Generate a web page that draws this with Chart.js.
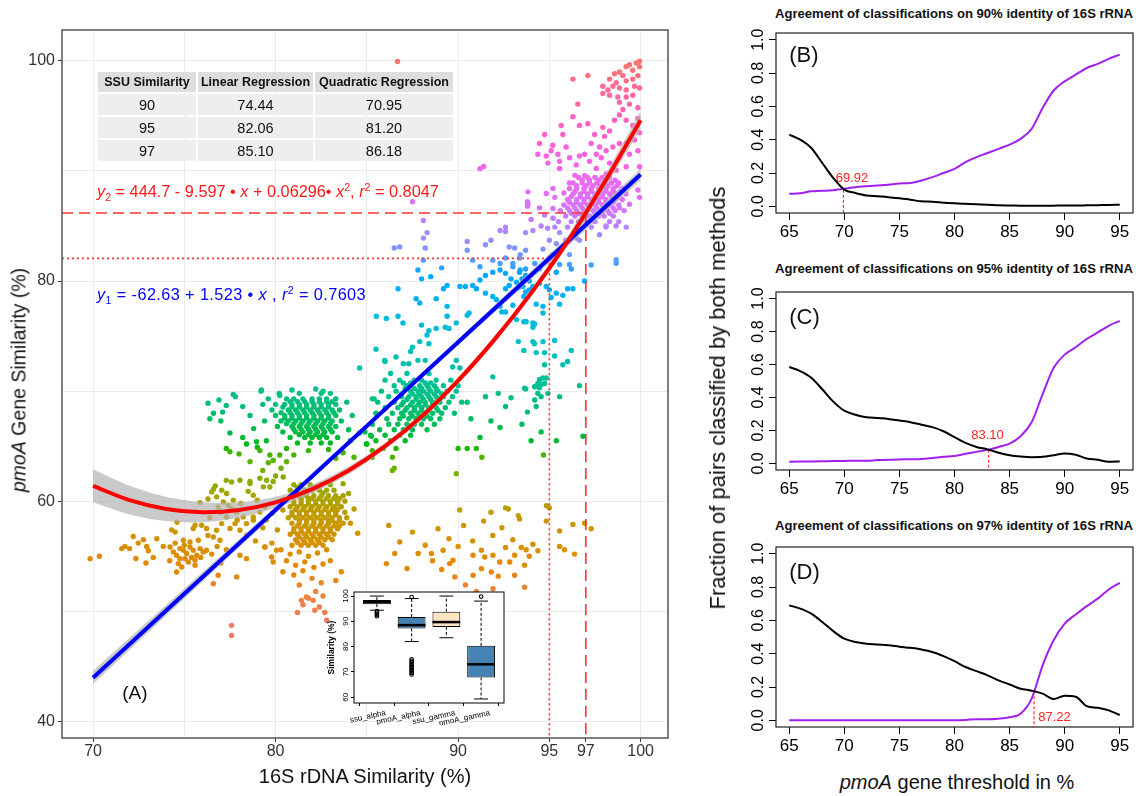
<!DOCTYPE html>
<html>
<head>
<meta charset="utf-8">
<script src="https://cdn.jsdelivr.net/npm/chart.js@4.4.1/dist/chart.umd.min.js"></script>
<style>
  body { margin: 0; background: #fff; width: 1136px; height: 796px; overflow: hidden; position: relative;
         font-family: 'Liberation Sans', Arial, sans-serif; }
  canvas { position: absolute; }
  .lbl { position: absolute; white-space: nowrap; transform: translate(-50%, -50%); }
  .rot { transform: translate(-50%, -50%) rotate(-90deg); }
  .ttl { position: absolute; white-space: nowrap; transform: translate(-50%, -50%); font-weight: bold; font-size: 13.1px; color: #111; }
  .eq { position: absolute; white-space: nowrap; transform: translateY(-50%); font-size: 16.3px; }
  .eq sub { font-size: 0.65em; vertical-align: -0.35em; }
  .eq sup { font-size: 0.65em; vertical-align: 0.55em; }
  #tbl { position: absolute; left: 96px; top: 70px; border-collapse: separate; border-spacing: 2px; table-layout: fixed; }
  #tbl th { background: #dedede; font-weight: bold; font-size: 12.5px; height: 20px; padding: 0; color: #111; }
  #tbl td { background: #eeeeee; font-size: 14.5px; height: 21px; padding: 0; text-align: center; color: #111; }
</style>
</head>
<body>
<canvas id="main" width="690" height="796" style="left:0;top:0"></canvas>
<canvas id="inset" width="195" height="140" style="left:318px;top:585px"></canvas>
<canvas id="pB" width="406" height="225" style="left:730px;top:25px"></canvas>
<canvas id="pC" width="406" height="223" style="left:730px;top:284px"></canvas>
<canvas id="pD" width="406" height="225" style="left:730px;top:539px"></canvas>

<table id="tbl">
  <colgroup><col style="width:98px"><col style="width:115px"><col style="width:138px"></colgroup>
  <tr><th>SSU Similarity</th><th>Linear Regression</th><th>Quadratic Regression</th></tr>
  <tr><td>90</td><td>74.44</td><td>70.95</td></tr>
  <tr><td>95</td><td>82.06</td><td>81.20</td></tr>
  <tr><td>97</td><td>85.10</td><td>86.18</td></tr>
</table>

<div class="eq" style="left:97px;top:192px;color:#ff1a1a"><i>y</i><sub>2</sub> = 444.7 - 9.597 • <i>x</i> + 0.06296• <i>x</i><sup>2</sup>, <i>r</i><sup>2</sup> = 0.8047</div>
<div class="eq" style="left:97px;top:295px;color:#0000ff;letter-spacing:0.4px"><i>y</i><sub>1</sub> = -62.63 + 1.523 • <i>x</i> , <i>r</i><sup>2</sup> = 0.7603</div>

<div class="lbl rot" style="left:19px;top:380px;font-size:19.5px;color:#111"><i>pmoA</i> Gene Similarity (%)</div>
<div class="lbl" style="left:365px;top:776px;font-size:20px;color:#111">16S rDNA Similarity (%)</div>

<div class="ttl" style="left:954px;top:13px">Agreement of classifications on 90% identity of 16S rRNA</div>
<div class="ttl" style="left:954px;top:268px">Agreement of classifications on 95% identity of 16S rRNA</div>
<div class="ttl" style="left:954px;top:525px">Agreement of classifications on 97% identity of 16S rRNA</div>
<div class="lbl rot" style="left:718px;top:398px;font-size:22px;color:#111">Fraction of pairs classified by both methods</div>
<div class="lbl" style="left:957px;top:782px;font-size:20px;color:#111"><i>pmoA</i> gene threshold in %</div>

<script>
const FONT = "'Liberation Sans', Arial, sans-serif";

// ---- main scatter: points, grouped by region ----
const ptsOrangeLeft = [
  [69.84,54.79],[70.35,55.0],[71.57,55.7],[71.75,55.9],[72.0,55.7],[72.2,56.8],[72.48,56.2],[72.76,56.5],[72.94,55.9],
  [73.03,55.5],[72.35,54.8],[73.49,56.6],[73.85,55.9],[74.22,55.85],[74.31,57.4],[74.5,57.2],[74.6,58.1],
  [74.40,55.40],[74.58,55.10],[74.76,54.79],[74.95,55.55],[75.13,55.25],[74.76,55.70],[75.04,54.79],[75.31,55.85],
  [75.49,55.55],[75.68,55.10],[75.86,55.70],[76.04,55.40],[75.59,54.64],[75.22,54.49],[74.67,54.34],[74.86,54.03],
  [75.59,54.19],[76.22,55.55],[74.58,53.58],[74.95,56.46],[75.31,56.31],[75.77,56.46],[75.49,57.52],[76.3,56.9],
  [74.2,54.6],[74.5,56.2],[75.0,56.0],[75.4,54.9],[75.9,54.9],[76.5,55.2],[76.8,55.9],[73.3,54.9],[72.9,54.4],
  [78.05,55.10],[78.41,54.79],[77.87,53.13],[76.59,52.52],[76.86,53.28],[77.59,48.73],[77.59,47.82],[79.42,55.85],
  [79.87,54.49],[79.41,55.85],[79.78,54.94],[80.05,55.55],[77.3,55.6],[77.0,54.4]
];
const ptsOliveLeft = [
  [76.50,60.85],[76.77,60.40],[77.05,61.00],[77.32,60.70],[77.14,59.94],[76.86,59.49],[77.41,59.64],[77.68,60.10],
  [77.87,59.03],[78.23,58.58],[78.41,57.97],[78.78,58.28],[77.32,58.58],[77.05,57.97],[76.77,57.37],[76.59,56.76],
  [76.95,56.46],[77.50,57.52],[77.78,57.97],[78.05,57.37],[78.41,56.91],[78.78,58.58],[79.14,59.03],[79.42,59.49],
  [77.59,61.76],[78.05,61.91],[78.60,61.61],[78.78,60.55],[79.33,61.31],[79.51,61.91],[76.22,57.52],[75.95,57.82],
  [75.59,57.82],[75.86,59.88],[76.3,60.2],[76.7,61.4],[77.0,59.0],[77.6,59.3],[78.1,59.8],[78.5,60.9],[76.4,58.5],
  [77.9,58.3],[79.0,60.1],[79.3,57.6],[79.8,58.9],[78.9,56.4]
];
const ptsGreenUpper = [
  [80.2,69.8],[81.3,69.8],[82.5,69.8],[83.0,69.8],
  [79.6,69.3],[80.6,69.3],[81.0,69.3],[81.5,69.3],[82.0,69.3],[82.4,69.3],[82.8,69.3],[83.3,69.3],
  [79.3,68.8],[80.0,68.8],[80.5,68.8],[80.9,68.8],[81.3,68.8],[81.7,68.8],[82.1,68.8],[82.5,68.8],[82.9,68.8],[83.3,68.8],
  [79.8,68.3],[80.7,68.3],[81.1,68.3],[81.5,68.3],[81.9,68.3],[82.3,68.3],[82.7,68.3],[83.1,68.3],[83.5,68.3],
  [80.0,67.8],[80.5,67.8],[80.9,67.8],[81.3,67.8],[81.7,67.8],[82.1,67.8],[82.5,67.8],[82.9,67.8],[83.3,67.8],
  [79.4,67.3],[80.3,67.3],[80.7,67.3],[81.1,67.3],[81.5,67.3],[81.9,67.3],[82.3,67.3],[82.7,67.3],[83.1,67.3],[83.6,67.3],
  [80.1,66.8],[80.9,66.8],[81.3,66.8],[81.7,66.8],[82.1,66.8],[82.5,66.8],[82.9,66.8],[83.3,66.8],
  [80.4,66.3],[81.1,66.3],[81.5,66.3],[81.9,66.3],[82.3,66.3],[82.7,66.3],[83.1,66.3],
  [80.8,65.8],[81.6,65.8],[82.0,65.8],[82.4,65.8],[82.8,65.8],[83.4,65.8],
  [81.2,65.3],[81.9,65.3],[82.5,65.3],[83.0,65.3],
  [80.8,69.05],[81.2,69.05],[81.6,69.05],[82.0,69.05],[82.4,69.05],[82.8,69.05],[83.1,69.05],
  [80.4,68.55],[80.9,68.55],[81.3,68.55],[81.7,68.55],[82.1,68.55],[82.5,68.55],[82.9,68.55],
  [80.3,68.05],[80.8,68.05],[81.2,68.05],[81.6,68.05],[82.0,68.05],[82.4,68.05],[82.8,68.05],[83.2,68.05],
  [80.5,67.55],[80.9,67.55],[81.3,67.55],[81.7,67.55],[82.1,67.55],[82.5,67.55],[82.9,67.55],
  [80.6,67.05],[81.0,67.05],[81.4,67.05],[81.8,67.05],[82.2,67.05],[82.6,67.05],[83.0,67.05],
  [81.0,66.55],[81.4,66.55],[81.8,66.55],[82.2,66.55],[82.6,66.55],[83.0,66.55],
  [81.3,66.05],[81.8,66.05],[82.2,66.05],[82.6,66.05],
  [76.6,68.0],[77.0,67.3],[77.3,68.7],[77.8,69.5],[78.2,68.6],[78.6,67.8],[77.5,66.2],[78.2,65.8],[78.8,66.6],
  [79.0,64.9],[78.0,64.3],[77.3,64.8],[79.5,65.5],[76.9,69.2],[76.4,67.5],[79.2,70.0],[80.9,70.1],[82.2,70.2],
  [84.0,66.5],[84.2,67.8],[83.9,69.0],[84.1,65.5],[79.6,63.5],[80.3,63.0],[80.0,62.3],[79.3,62.8],[78.6,63.6],
  [81.0,64.2],[80.6,64.8],[83.7,64.4],[84.3,64.0],[77.68,69.7],[79.23,70.1],[80.23,69.6],[82.6,70.0],[76.3,68.9],
  [77.1,68.1],[78.41,65.2],[78.96,65.4],[77.5,64.5],[79.14,64.6],[79.69,64.2],[80.23,64.2],[79.87,63.7],[80.6,63.6],
  [80.42,62.2],[79.87,61.8],[79.69,61.3],[79.14,62.1],[78.6,61.8],[77.3,61.9],[76.6,61.1],[84.9,66.3],[85.25,65.9],
  [84.98,65.2],[85.4,69.3],[81.8,64.6],[82.9,64.7],[83.3,63.9]
];
const ptsCentral = [
  [81.0,61.5],[81.4,61.5],[81.9,61.5],[82.5,61.5],[83.0,61.5],
  [80.8,61.0],[81.2,61.0],[81.6,61.0],[82.0,61.0],[82.4,61.0],[82.8,61.0],[83.2,61.0],
  [80.9,60.5],[81.3,60.5],[81.7,60.5],[82.1,60.5],[82.5,60.5],[82.9,60.5],[83.3,60.5],[83.7,60.5],
  [81.0,60.0],[81.4,60.0],[81.8,60.0],[82.2,60.0],[82.6,60.0],[83.0,60.0],[83.4,60.0],[83.8,60.0],
  [80.8,59.5],[81.2,59.5],[81.6,59.5],[82.0,59.5],[82.4,59.5],[82.8,59.5],[83.2,59.5],[83.6,59.5],
  [80.9,59.0],[81.3,59.0],[81.7,59.0],[82.1,59.0],[82.5,59.0],[82.9,59.0],[83.3,59.0],[83.8,59.0],
  [80.7,58.5],[81.1,58.5],[81.5,58.5],[81.9,58.5],[82.3,58.5],[82.7,58.5],[83.1,58.5],[83.5,58.5],[83.9,58.5],
  [80.9,58.0],[81.3,58.0],[81.7,58.0],[82.1,58.0],[82.5,58.0],[82.9,58.0],[83.3,58.0],[83.7,58.0],
  [81.0,57.5],[81.4,57.5],[81.8,57.5],[82.2,57.5],[82.6,57.5],[83.0,57.5],[83.4,57.5],
  [80.8,57.0],[81.2,57.0],[81.6,57.0],[82.0,57.0],[82.4,57.0],[82.8,57.0],[83.2,57.0],
  [81.1,56.5],[81.5,56.5],[81.9,56.5],[82.3,56.5],[82.7,56.5],[83.1,56.5],
  [80.9,56.0],[81.4,56.0],[81.8,56.0],[82.2,56.0],[82.6,56.0],
  [81.2,61.25],[82.2,61.25],[82.6,60.75],[81.5,60.75],[83.5,60.25],[82.0,60.25],[81.0,59.75],[82.6,59.75],[83.4,59.25],
  [81.9,59.25],[81.3,58.75],[82.9,58.75],[82.1,58.25],[83.5,58.25],[81.2,57.75],[82.8,57.75],[81.8,57.25],[83.2,57.75],[82.1,56.75],
  [81.4,60.25],[81.8,60.25],[82.4,60.25],[82.8,60.25],[83.2,60.25],
  [81.4,59.75],[81.8,59.75],[82.2,59.75],[83.0,59.75],[83.4,59.75],
  [81.1,59.25],[81.5,59.25],[82.3,59.25],[82.7,59.25],[83.1,59.25],
  [80.9,58.75],[81.7,58.75],[82.1,58.75],[82.5,58.75],[83.3,58.75],
  [81.3,58.25],[81.7,58.25],[82.5,58.25],[82.9,58.25],[83.1,58.25],
  [81.6,57.75],[82.0,57.75],[82.4,57.75],[83.5,57.75],
  [81.0,57.25],[81.4,57.25],[82.2,57.25],[82.6,57.25],[83.0,57.25],
  [81.3,56.75],[81.7,56.75],[82.5,56.75],[82.9,56.75],
  [81.2,56.25],[81.6,56.25],[82.0,56.25],[82.4,56.25],
  [80.3,55.6],[80.8,55.2],[81.3,55.4],[81.8,55.0],[82.3,55.3],[82.8,55.6],[80.6,54.6],[81.1,54.2],[81.6,54.5],[82.1,54.0],
  [82.6,54.3],[80.4,53.6],[81.0,53.3],[81.5,53.7],[82.0,53.0],[82.5,52.6],[81.3,52.4],[82.2,51.8],[81.8,51.2],[82.6,51.4],
  [81.5,50.6],[82.4,50.4],[81.2,49.9],[82.8,49.2],[83.3,52.8],[83.6,53.6],[83.0,54.6],[79.8,56.2],[80.1,57.4],[79.5,58.3],
  [84.1,58.0],[84.3,59.3],[84.0,60.7],[84.5,57.1],[81.69,51.3],[82.06,51.0],[81.42,51.0],[82.15,50.1],[82.7,49.9],
  [83.7,61.6],[80.5,60.1],[80.4,59.2]
];
const ptsTeal = [
  [86.3,71.6],[87.2,71.6],[88.4,71.6],
  [86.0,71.0],[86.8,71.0],[87.6,71.0],[88.0,71.0],[88.8,71.0],[89.6,71.0],
  [86.5,70.5],[87.2,70.5],[87.9,70.5],[88.3,70.5],[88.7,70.5],[89.2,70.5],[90.0,70.5],
  [85.8,70.0],[86.6,70.0],[87.4,70.0],[87.8,70.0],[88.1,70.0],[88.5,70.0],[88.9,70.0],[89.4,70.0],[89.9,70.0],
  [86.2,69.5],[86.9,69.5],[87.3,69.5],[87.7,69.5],[88.0,69.5],[88.4,69.5],[88.8,69.5],[89.2,69.5],[89.7,69.5],
  [85.6,69.0],[86.5,69.0],[87.0,69.0],[87.5,69.0],[87.9,69.0],[88.2,69.0],[88.6,69.0],[89.0,69.0],[89.5,69.0],[90.2,69.0],
  [86.0,68.5],[86.7,68.5],[87.2,68.5],[87.6,68.5],[88.0,68.5],[88.4,68.5],[88.8,68.5],[89.3,68.5],
  [85.5,68.0],[86.4,68.0],[86.9,68.0],[87.4,68.0],[87.8,68.0],[88.2,68.0],[88.6,68.0],[89.1,68.0],[89.8,68.0],
  [86.1,67.5],[86.8,67.5],[87.3,67.5],[87.7,67.5],[88.1,67.5],[88.5,67.5],[89.0,67.5],
  [85.3,67.0],[86.2,67.0],[86.7,67.0],[87.2,67.0],[87.6,67.0],[88.0,67.0],[88.7,67.0],
  [85.7,66.5],[86.5,66.5],[87.0,66.5],[87.5,66.5],[88.3,66.5],
  [85.2,66.0],[86.0,66.0],[86.8,66.0],[87.4,66.0],
  [85.5,65.5],[86.3,65.5],[87.1,65.5],
  [85.9,64.8],[86.6,64.8],[90.0,64.8],[90.5,64.8],[91.0,64.8],
  [85.3,64.0],[86.4,64.0],[91.3,64.0],
  [87.0,70.75],[87.4,70.75],[88.2,70.75],[88.5,70.75],
  [87.1,70.25],[87.6,70.25],[88.0,70.25],[88.4,70.25],[88.8,70.25],
  [86.9,69.75],[87.5,69.75],[87.9,69.75],[88.3,69.75],[88.7,69.75],[89.1,69.75],
  [87.2,69.25],[87.7,69.25],[88.1,69.25],[88.5,69.25],[88.9,69.25],
  [86.9,68.75],[87.4,68.75],[87.8,68.75],[88.2,68.75],[88.6,68.75],
  [87.1,68.25],[87.6,68.25],[88.0,68.25],[88.4,68.25],[88.9,68.25],
  [87.0,67.75],[87.5,67.75],[87.9,67.75],[88.3,67.75],
  [86.5,63.0],[86.4,62.8],[89.9,62.5],[88.2,72.8],[87.3,72.5],[86.6,73.1],[85.5,73.8],[89.7,72.2],[90.5,69.0],[90.7,67.5],
  [91.8,67.3],[92.3,66.7],[93.5,67.0],[91.2,65.8],[94.0,65.5],[92.6,68.6],[92.9,69.4],[93.8,68.1],[91.9,71.3],[92.2,69.8],
  [91.5,69.5],[93.7,70.2],[94.2,69.2],[85.3,69.3],[84.6,66.2],[85.0,65.2],[85.3,64.6],
  [93.64,70.26],[94.19,70.4],[94.37,70.7],[94.46,71.07],[94.65,71.2],[94.83,71.2],[94.55,70.6],[94.74,70.7],[94.46,70.3],
  [94.37,69.8],[94.55,69.5],[94.28,68.6],[94.92,69.8],[95.56,69.5],[96.65,70.5],
  [94.55,66.3],[95.38,65.5],[94.68,64.2],[96.84,65.9]
];
const ptsBlue = [
  [86.71,79.3],[85.52,76.8],[86.07,76.6],[86.71,76.8],[86.98,76.2],[84.61,72.1],[85.98,72.8],
  [87.7,78.4],[87.9,78.0],[89.2,79.3],[89.4,79.6],[88.8,78.4],[89.4,77.7],[89.4,76.8],[88.0,76.0],[88.4,75.5],[88.8,75.7],
  [89.3,75.8],[89.5,75.7],[89.9,76.2],[88.3,75.1],[88.4,74.3],[87.9,74.5],[87.5,74.0],[87.4,73.6],[87.8,72.8],[87.0,72.5],
  [86.0,72.7],[89.9,72.8],[90.1,72.1],[90.5,76.9],[90.6,77.1],[91.0,79.3],[91.5,78.9],[91.9,78.6],[92.1,78.3],[92.3,77.7],
  [92.6,77.2],[93.0,77.8],[93.2,76.5],[93.6,76.3],[94.1,76.2],[93.3,74.5],[93.6,73.7],[94.1,74.5],[92.4,77.2],[92.6,79.3],
  [90.1,79.5],[90.4,79.5],[90.8,79.6],[91.2,80.1],[91.5,80.5],[91.9,80.8],[92.3,81.0],[92.6,80.7],[93.0,81.3],[93.4,81.0],
  [93.7,80.5],[93.7,79.0],[93.6,78.6],[94.0,79.2],
  [93.37,80.8],[93.7,81.1],[94.2,81.6],[94.46,81.1],[95.0,82.1],[95.2,82.4],[95.38,80.8],[95.56,81.5],[96.1,81.5],[96.2,81.1],
  [95.74,83.1],[93.37,82.1],[94.65,82.9],[95.38,83.4],[96.1,82.4],[96.65,83.7],[93.55,79.5],[93.9,79.2],[94.1,79.5],[94.46,79.8],
  [94.83,79.5],[95.0,79.2],[94.28,77.9],[94.65,77.7],[94.65,77.1],[95.1,78.5],[95.38,78.9],[95.56,77.9],[95.74,78.7],[96.0,79.3],
  [96.29,79.3],[96.93,80.0],[93.73,76.3],[94.19,76.1],[94.1,75.8],[94.19,74.3],[94.65,74.5],[94.28,73.5],[94.74,73.5],[95.29,74.6],
  [95.29,73.2],[95.74,72.4],[96.0,72.7],[96.2,73.7],[94.74,72.4],
  [93.2,79.9],[93.5,80.2],[93.9,80.0],[93.3,79.4],[92.8,79.6],[92.9,80.2]
];
const ptsViolet = [
  [86.5,83.0],[86.8,83.1],[88.1,83.9],[88.3,84.4],[88.2,83.0],[88.1,81.9],[87.8,81.0],[88.0,80.2],[88.5,80.4],[89.1,81.2],
  [90.5,82.8],[90.5,83.6],[91.5,83.3],[91.8,83.7],[92.3,84.6],[92.6,84.9],[92.6,84.5],[92.8,83.1],[93.1,83.0],[93.4,82.4],
  [93.7,82.8],[94.1,84.6],[93.8,87.2],[93.8,86.8],[87.5,87.2],[88.1,85.5],[91.4,90.4],[91.2,90.2],[90.8,81.9],[91.2,81.3],
  [91.9,81.9],[92.3,81.6],[92.6,82.1],[93.0,81.6],
  [96.6,89.4],[97.1,89.4],[97.5,89.4],[97.9,89.4],[98.3,89.4],
  [96.3,88.9],[96.8,88.9],[97.2,88.9],[97.6,88.9],[98.0,88.9],[98.4,88.9],[98.8,88.9],
  [96.1,88.4],[96.5,88.4],[96.9,88.4],[97.3,88.4],[97.7,88.4],[98.1,88.4],[98.5,88.4],[99.0,88.4],
  [96.3,87.9],[96.7,87.9],[97.1,87.9],[97.5,87.9],[97.9,87.9],[98.3,87.9],[98.7,87.9],[99.2,87.9],
  [96.0,87.4],[96.5,87.4],[96.9,87.4],[97.3,87.4],[97.7,87.4],[98.1,87.4],[98.6,87.4],[99.0,87.4],
  [95.8,86.9],[96.3,86.9],[96.7,86.9],[97.1,86.9],[97.5,86.9],[97.9,86.9],[98.3,86.9],[98.8,86.9],
  [95.6,86.4],[96.1,86.4],[96.5,86.4],[96.9,86.4],[97.4,86.4],[97.8,86.4],[98.2,86.4],[98.6,86.4],[99.1,86.4],
  [95.9,85.9],[96.4,85.9],[96.8,85.9],[97.2,85.9],[97.7,85.9],[98.0,85.9],[98.5,85.9],
  [95.5,85.4],[96.2,85.4],[96.6,85.4],[97.0,85.4],[97.5,85.4],[98.3,85.4],[98.8,85.4],
  [95.3,84.9],[96.0,84.9],[96.5,84.9],[97.3,84.9],[98.1,84.9],
  [96.8,89.15],[97.2,89.15],[97.7,89.15],[98.1,89.15],[98.6,89.15],
  [96.5,88.65],[97.0,88.65],[97.4,88.65],[97.8,88.65],[98.2,88.65],[98.7,88.65],
  [96.4,88.15],[96.9,88.15],[97.3,88.15],[97.7,88.15],[98.1,88.15],[98.5,88.15],[98.9,88.15],
  [96.2,87.65],[96.7,87.65],[97.1,87.65],[97.5,87.65],[97.9,87.65],[98.4,87.65],[98.8,87.65],
  [96.1,87.15],[96.5,87.15],[96.9,87.15],[97.3,87.15],[97.7,87.15],[98.1,87.15],[98.5,87.15],
  [96.0,86.65],[96.4,86.65],[96.8,86.65],[97.2,86.65],[97.6,86.65],[98.0,86.65],[98.5,86.65],
  [96.2,86.15],[96.6,86.15],[97.0,86.15],[97.5,86.15],[97.9,86.15],[98.3,86.15],
  [93.83,88.1],[94.83,87.95],[95.2,88.4],[95.3,87.6],[96.1,88.9],[95.8,88.0],[96.4,89.6],[94.46,86.65],[94.74,86.0],[93.7,84.4],
  [93.83,86.97],[94.55,85.0],[95.2,85.7],[95.0,83.7],[95.56,84.4],[95.9,83.7],[96.47,83.9],[96.65,84.7],[97.75,84.2],[98.11,85.0],
  [98.66,85.0],[99.21,84.9],[98.84,86.65],[99.39,86.97],[99.85,88.27],[99.94,87.6],[98.66,81.94],[98.66,81.62],[97.29,81.46],
  [94.9,84.8],[95.2,86.6],[94.0,85.6]
];
const ptsPink = [
  [99.39,99.64],[99.76,99.80],[99.94,99.96],[99.94,99.47],[99.57,99.15],[99.21,99.47],[98.84,98.99],[99.03,98.66],[98.57,98.83],
  [98.30,98.34],[98.66,98.01],[99.21,98.18],[99.57,98.34],[99.85,98.66],[97.93,97.69],[98.21,97.36],[98.48,97.69],[98.84,97.53],
  [99.21,97.36],[99.67,97.69],[99.94,97.53],[97.93,97.04],[98.30,96.88],[98.75,96.72],[99.21,96.72],[99.57,96.88],[98.84,96.23],
  [99.39,96.07],[99.85,95.74],[99.03,95.58],[97.11,98.66],[96.29,98.34],[96.56,96.07],[86.68,99.94],
  [95.65,94.12],[95.74,93.31],[95.19,92.33],[94.74,93.31],[94.46,92.49],[94.37,91.52],[94.83,91.36],[95.10,91.84],[95.47,91.52],
  [95.56,90.87],[96.29,94.93],[96.65,94.12],[97.11,94.28],[97.48,93.31],[97.29,92.49],[97.75,92.17],[98.02,93.14],[98.30,93.63],
  [97.93,93.96],[98.57,94.61],[98.84,95.09],[99.21,94.61],[99.57,94.12],[99.85,94.77],[99.94,93.47],[99.67,92.82],[99.21,92.49],
  [98.84,92.49],[98.48,92.17],[98.11,91.84],[97.84,91.20],[97.57,91.52],[97.20,90.87],[96.93,91.52],[96.65,91.36],[96.47,90.55],
  [97.57,90.22],[98.30,90.71],[98.84,91.20],[99.39,91.52],[99.85,91.84],[99.94,90.38],[99.21,90.38],[98.66,90.06],[98.11,89.73],
  [96.11,91.20],[95.92,92.17],[96.93,89.57],[95.56,90.22],[94.92,90.71]
];
const ptsLowBand = [
  [86.53,55.25],[87.81,55.25],[88.54,55.25],[89.18,55.55],[89.72,54.64],[89.54,54.34],[89.82,53.13],[90.82,55.1],[91.28,55.55],
  [91.46,54.94],[91.91,55.1],[92.28,54.49],[92.83,54.49],[93.1,55.1],[93.1,53.28],[91.82,53.58],[91.28,53.88],[90.82,53.28],
  [91.91,52.06],[86.07,54.34],[90.09,59.2],[91.8,59.0],[92.6,59.4],[92.75,59.3],[93.3,58.7],[94.84,59.6],
  [86.8,56.3],[87.5,57.2],[88.2,56.0],[88.9,57.5],[89.5,56.6],[90.3,57.8],[90.8,56.4],[91.4,58.2],[91.9,56.9],[92.4,57.6],
  [93.0,56.5],[92.6,55.8],[90.0,55.9],[88.6,54.6],[87.2,53.9],[89.1,53.8],[86.2,57.8],[92.2,53.2],[90.4,52.4],[91.0,51.8],
  [95.0,59.4],[94.83,58.2],[93.37,58.4],[96.29,57.9],[96.93,58.0],[97.29,57.5],[95.56,57.3],[95.56,55.9],[95.83,55.6],
  [96.38,55.2],[94.1,56.1],[94.37,55.5],[93.73,55.6],[93.46,55.8],[93.9,55.0],[93.64,54.2],[93.64,52.2]
];

// fitted curves
const fitX     = [70,72,74,76,78,80,82,84,86,88,90,92,94,96,98,100];
const quadFit  = [61.4,60.1,59.3,59.0,59.2,59.9,61.1,62.8,65.0,67.7,70.95,74.7,78.9,83.6,88.9,94.6];
const quadHi   = [62.9,61.4,60.4,59.9,59.9,60.4,61.5,63.15,65.3,68.0,71.25,75.0,79.25,84.05,89.5,95.4];
const quadLo   = [59.9,58.8,58.2,58.1,58.5,59.4,60.7,62.45,64.7,67.4,70.65,74.4,78.55,83.15,88.3,93.8];
const linX     = [70,85,100];
const linFit   = [43.98,66.83,89.67];
const linHi    = [44.6,67.0,90.2];
const linLo    = [43.4,66.65,89.15];

const xTicksMain = [70,75,80,85,90,95,97,100];
const xLabelsMain = [70,80,90,95,97,100];
const yTicksMain = [40,50,60,70,80,90,100];
const yLabelsMain = [40,60,80,100];

// ---- inset boxplot ----
const boxCats = ['ssu_alpha','pmoA_alpha','ssu_gamma','pmoA_gamma'];
const boxQ1 = [96.8, 87.2, 87.8, 67.8];
const boxQ3 = [98.4, 91.7, 93.8, 80.3];
const boxMed = [97.6, 88.5, 89.7, 73.0];
const whiskLo = [94.4, 82.0, 83.5, 59.3];
const whiskHi = [100, 99.0, 100, 98.0];
const boxOutliers = [[92.0,92.5,93.0,93.5,94.0],[69.0,69.6,70.2,70.8,71.4,72.0,72.6,73.2,73.8,74.4,75.0,99.6],[],[99.8]];
const boxFill = ['#ffe4c4','#4682b4','#ffe4c4','#4682b4'];

// ---- right panels ----
const thresholds = [65,66,67,68,69,70,71,72,73,74,75,76,77,78,79,80,81,82,83,84,85,86,87,88,89,90,91,92,93,94,95];
const agree90Black = [0.43,0.40,0.35,0.26,0.17,0.10,0.08,0.065,0.06,0.055,0.048,0.04,0.03,0.028,0.022,0.018,0.015,0.012,0.01,0.006,0.005,0.004,0.004,0.003,0.004,0.005,0.005,0.006,0.007,0.008,0.01];
const agree90Purple = [0.075,0.078,0.09,0.093,0.097,0.105,0.115,0.12,0.125,0.13,0.137,0.14,0.155,0.175,0.2,0.225,0.265,0.295,0.32,0.345,0.37,0.405,0.465,0.59,0.695,0.75,0.79,0.83,0.855,0.885,0.91];
const agree95Black = [0.585,0.56,0.52,0.45,0.375,0.32,0.295,0.28,0.275,0.27,0.26,0.25,0.235,0.22,0.195,0.16,0.125,0.1,0.085,0.065,0.05,0.042,0.038,0.04,0.05,0.06,0.052,0.03,0.022,0.01,0.012];
const agree95Purple = [0.01,0.011,0.012,0.013,0.014,0.015,0.016,0.016,0.02,0.022,0.024,0.025,0.027,0.033,0.04,0.045,0.058,0.07,0.082,0.1,0.12,0.165,0.25,0.42,0.58,0.66,0.705,0.755,0.795,0.835,0.865];
const agree97Black = [0.69,0.67,0.64,0.59,0.535,0.49,0.47,0.46,0.455,0.45,0.442,0.435,0.425,0.41,0.385,0.355,0.32,0.295,0.27,0.24,0.215,0.19,0.178,0.16,0.128,0.148,0.142,0.085,0.075,0.06,0.032];
const agree97Purple = [0,0,0,0,0,0,0,0,0,0,0,0,0,0,0,0,0.002,0.007,0.007,0.01,0.018,0.04,0.13,0.33,0.48,0.58,0.635,0.685,0.73,0.785,0.825];
const crossings = [[69.92,0.10],[83.10,0.083],[87.22,0.175]];
const xTicksSide = [65,70,75,80,85,90,95];
const yTicksSide = [0,0.2,0.4,0.6,0.8,1.0];

// colour key: hue stops against pmoA similarity (style only)
const hueStopY = [48, 55, 59, 63, 67, 71, 75, 79, 83, 87, 91, 95, 100];
const hueStopH = [15, 45, 70, 110, 145, 172, 200, 232, 262, 295, 315, 340, 375];

// ggplot-like hue colour (polar Luv)
function hcl(h, c, l) {
  const hr = h * Math.PI / 180;
  const U = c * Math.cos(hr), V = c * Math.sin(hr);
  const Xn = 95.047, Yn = 100, Zn = 108.883;
  const d = Xn + 15 * Yn + 3 * Zn, un = 4 * Xn / d, vn = 9 * Yn / d;
  const Y = Yn * Math.pow((l + 16) / 116, 3);
  const u = U / (13 * l) + un, v = V / (13 * l) + vn;
  const X = Y * 9 * u / (4 * v), Z = Y * (12 - 3 * u - 20 * v) / (4 * v);
  const lin = [3.2404542*X - 1.5371385*Y - 0.4985314*Z, -0.9692660*X + 1.8760108*Y + 0.0415560*Z, 0.0556434*X - 0.2040259*Y + 1.0572252*Z];
  const g = q => { q = Math.max(0, Math.min(1, q / 100)); return Math.round(255 * (q <= 0.0031308 ? 12.92 * q : 1.055 * Math.pow(q, 1 / 2.4) - 0.055)); };
  return 'rgb(' + g(lin[0]) + ',' + g(lin[1]) + ',' + g(lin[2]) + ')';
}
function pointColor(y) {
  let i = 0;
  while (i < hueStopY.length - 2 && y > hueStopY[i + 1]) i++;
  const t = Math.max(0, Math.min(1, (y - hueStopY[i]) / (hueStopY[i + 1] - hueStopY[i])));
  return hcl(hueStopH[i] + t * (hueStopH[i + 1] - hueStopH[i]), 100, 65);
}

const toXY = (xs, ys) => xs.map((x, i) => ({x: x, y: ys[i]}));

// ---- small plugins ----
const framePlugin = {
  id: 'frame',
  beforeDraw(chart, args, opts) {
    if (!opts.fill) return;
    const a = chart.chartArea;
    chart.ctx.save(); chart.ctx.fillStyle = opts.fill;
    chart.ctx.fillRect(a.left, a.top, a.right - a.left, a.bottom - a.top); chart.ctx.restore();
  },
  afterDraw(chart, args, opts) {
    const a = chart.chartArea, ctx = chart.ctx;
    ctx.save(); ctx.strokeStyle = opts.color || '#000'; ctx.lineWidth = opts.width || 1;
    ctx.strokeRect(a.left, a.top, a.right - a.left, a.bottom - a.top); ctx.restore();
  }
};
const marksPlugin = {
  id: 'marks',
  afterDatasetsDraw(chart, args, opts) {
    const ctx = chart.ctx;
    (opts.items || []).forEach(it => {
      const px = chart.scales.x.getPixelForValue(it.x), py = chart.scales.y.getPixelForValue(it.y);
      ctx.save();
      ctx.font = it.size + 'px ' + FONT; ctx.fillStyle = it.color;
      ctx.textAlign = it.align || 'center'; ctx.textBaseline = 'middle';
      ctx.fillText(it.text, px, py); ctx.restore();
    });
  }
};
const rotYPlugin = {
  id: 'rotY',
  afterDraw(chart, args, opts) {
    const s = chart.scales.y, ctx = chart.ctx;
    ctx.save(); ctx.font = opts.size + 'px ' + FONT; ctx.fillStyle = opts.color || '#000';
    ctx.textAlign = 'center'; ctx.textBaseline = 'middle';
    s.ticks.forEach(t => {
      ctx.save(); ctx.translate(chart.chartArea.left - opts.offset, s.getPixelForValue(t.value));
      ctx.rotate(-Math.PI / 2); ctx.fillText(t.value.toFixed(opts.digits), 0, 0); ctx.restore();
    });
    ctx.restore();
  }
};
const boxPlugin = {
  id: 'boxExtras',
  afterDatasetsDraw(chart) {
    const xs = chart.scales.x, ys = chart.scales.y, ctx = chart.ctx, a = chart.chartArea;
    const bars = chart.getDatasetMeta(0).data;
    ctx.save(); ctx.strokeStyle = '#000'; ctx.fillStyle = '#000';
    boxCats.forEach((c, i) => {
      const cx = xs.getPixelForValue(i + 1), hw = bars[i].width / 2;
      const seg = (x1, y1, x2, y2) => { ctx.beginPath(); ctx.moveTo(x1, y1); ctx.lineTo(x2, y2); ctx.stroke(); };
      ctx.lineWidth = 1; ctx.setLineDash([3, 2]);
      seg(cx, ys.getPixelForValue(boxQ3[i]), cx, ys.getPixelForValue(whiskHi[i]));
      seg(cx, ys.getPixelForValue(boxQ1[i]), cx, ys.getPixelForValue(whiskLo[i]));
      ctx.setLineDash([]);
      seg(cx - hw / 2, ys.getPixelForValue(whiskHi[i]), cx + hw / 2, ys.getPixelForValue(whiskHi[i]));
      seg(cx - hw / 2, ys.getPixelForValue(whiskLo[i]), cx + hw / 2, ys.getPixelForValue(whiskLo[i]));
      ctx.lineWidth = 2.5;
      seg(cx - hw, ys.getPixelForValue(boxMed[i]), cx + hw, ys.getPixelForValue(boxMed[i]));
      ctx.lineWidth = 1.1;
      boxOutliers[i].forEach(v => { ctx.beginPath(); ctx.arc(cx, ys.getPixelForValue(v), 1.8, 0, 2 * Math.PI); ctx.stroke(); });
      ctx.save(); ctx.font = '8px ' + FONT; ctx.textAlign = 'right'; ctx.textBaseline = 'top';
      ctx.translate(cx + 8, a.bottom + 6); ctx.rotate(-12 * Math.PI / 180); ctx.fillText(c, 0, 0); ctx.restore();
    });
    ctx.font = '8px ' + FONT; ctx.textAlign = 'center'; ctx.textBaseline = 'middle';
    ys.ticks.forEach(t => {
      ctx.save(); ctx.translate(a.left - 8, ys.getPixelForValue(t.value)); ctx.rotate(-Math.PI / 2);
      ctx.fillText(String(t.value), 0, 0); ctx.restore();
    });
    ctx.save(); ctx.font = 'bold 8.5px ' + FONT; ctx.translate(a.left - 22, (a.top + a.bottom) / 2);
    ctx.rotate(-Math.PI / 2); ctx.fillText('Similarity (%)', 0, 0); ctx.restore();
    ctx.restore();
  }
};

// ---- main chart ----
const allPts = [].concat(ptsOrangeLeft, ptsOliveLeft, ptsGreenUpper, ptsCentral, ptsTeal, ptsBlue, ptsViolet, ptsPink, ptsLowBand)
  .map(p => ({x: p[0], y: p[1]}));
const X_MIN = 68.3, Y_MIN = 38.5;
const lineDs = (data, color, width, dash, order) => ({
  type: 'line', data: data, borderColor: color, borderWidth: width, borderDash: dash || [],
  pointRadius: 0, fill: false, order: order
});

new Chart(document.getElementById('main'), {
  type: 'scatter',
  data: {
    datasets: [
      { data: allPts, pointRadius: 2.7, pointBorderWidth: 0, order: 10,
        pointBackgroundColor: ctx => pointColor(ctx.raw ? ctx.raw.y : 60) },
      { type: 'line', data: toXY(fitX, quadLo), borderWidth: 0, pointRadius: 0, fill: false, tension: 0.3, order: 6 },
      { type: 'line', data: toXY(fitX, quadHi), borderWidth: 0, pointRadius: 0, fill: '-1', tension: 0.3,
        backgroundColor: 'rgba(180,180,180,0.7)', order: 6 },
      { type: 'line', data: toXY(linX, linLo), borderWidth: 0, pointRadius: 0, fill: false, order: 6 },
      { type: 'line', data: toXY(linX, linHi), borderWidth: 0, pointRadius: 0, fill: '-1',
        backgroundColor: 'rgba(180,180,180,0.7)', order: 6 },
      lineDs([{x: X_MIN, y: 86.18}, {x: 97, y: 86.18}], '#ff3333', 1.6, [11, 6], 4),
      lineDs([{x: 97, y: 86.18}, {x: 97, y: Y_MIN}], '#ff3333', 1.6, [11, 6], 4),
      lineDs([{x: X_MIN, y: 82.06}, {x: 95, y: 82.06}], '#ff3333', 1.6, [2, 3], 4),
      lineDs([{x: 95, y: 82.06}, {x: 95, y: Y_MIN}], '#ff3333', 1.6, [2, 3], 4),
      lineDs(toXY(linX, linFit), '#0000ff', 4, null, 2),
      Object.assign(lineDs(toXY(fitX, quadFit), '#ff0000', 4, null, 1), {tension: 0.3})
    ]
  },
  options: {
    responsive: false, animation: false,
    layout: {padding: {top: 30, right: 22, left: 0, bottom: 0}},
    plugins: {
      legend: {display: false}, tooltip: {enabled: false},
      frame: {color: '#555', width: 1.5},
      marks: {items: [{x: 71.6, y: 42.5, text: '(A)', size: 19, color: '#111', align: 'left'}]}
    },
    scales: {
      x: {
        type: 'linear', min: X_MIN, max: 101.5,
        afterBuildTicks: s => { s.ticks = xTicksMain.map(v => ({value: v})); },
        afterFit: s => { s.height = 58; },
        ticks: {autoSkip: false, maxRotation: 0, padding: 0, color: '#333', font: {size: 16, family: FONT},
                callback: v => xLabelsMain.includes(v) ? String(v) : ''},
        grid: {color: c => (c.tick && c.tick.value === 97) ? 'rgba(0,0,0,0)' : '#ececec',
               tickColor: c => (c.tick && xLabelsMain.includes(c.tick.value)) ? '#333' : 'rgba(0,0,0,0)', tickLength: 4},
        border: {display: false}
      },
      y: {
        type: 'linear', min: Y_MIN, max: 102.8,
        afterBuildTicks: s => { s.ticks = yTicksMain.map(v => ({value: v})); },
        afterFit: s => { s.width = 62; },
        ticks: {autoSkip: false, padding: 3, color: '#333', font: {size: 16, family: FONT},
                callback: v => yLabelsMain.includes(v) ? String(v) : ''},
        grid: {color: '#ececec',
               tickColor: c => (c.tick && yLabelsMain.includes(c.tick.value)) ? '#333' : 'rgba(0,0,0,0)', tickLength: 4},
        border: {display: false}
      }
    }
  },
  plugins: [framePlugin, marksPlugin]
});

// ---- inset boxplot ----
new Chart(document.getElementById('inset'), {
  type: 'bar',
  data: {
    datasets: [{
      data: boxCats.map((c, i) => ({x: i + 1, y: [boxQ1[i], boxQ3[i]]})),
      backgroundColor: boxFill, borderColor: '#000', borderWidth: 1, borderSkipped: false,
      barPercentage: 0.8, categoryPercentage: 1
    }]
  },
  options: {
    responsive: false, animation: false,
    layout: {padding: {top: 7, right: 9, left: 0, bottom: 0}},
    plugins: {legend: {display: false}, tooltip: {enabled: false}, frame: {color: '#000', width: 1, fill: '#fff'}},
    scales: {
      x: {type: 'linear', min: 0.34, max: 4.66, offset: false,
          afterBuildTicks: s => { s.ticks = [1, 2, 3, 4].map(v => ({value: v})); },
          afterFit: s => { s.height = 22; },
          ticks: {display: false}, grid: {drawOnChartArea: false, tickLength: 3, tickColor: '#000'}, border: {display: false}},
      y: {type: 'linear', min: 57.7, max: 101.6,
          afterBuildTicks: s => { s.ticks = [60, 70, 80, 90, 100].map(v => ({value: v})); },
          afterFit: s => { s.width = 36; },
          ticks: {display: false}, grid: {drawOnChartArea: false, tickLength: 3, tickColor: '#000'}, border: {display: false}}
    }
  },
  plugins: [framePlugin, boxPlugin]
});

// ---- right-hand panels ----
function sidePanel(id, black, purple, cross, tag, tagY, labelText, labelX, labelY, labelAlign) {
  new Chart(document.getElementById(id), {
    type: 'line',
    data: {
      datasets: [
        {data: toXY(thresholds, black), borderColor: '#000', borderWidth: 2, pointRadius: 0, cubicInterpolationMode: 'monotone'},
        {data: toXY(thresholds, purple), borderColor: '#a020f0', borderWidth: 2, pointRadius: 0, cubicInterpolationMode: 'monotone'},
        {data: [{x: cross[0], y: cross[1]}, {x: cross[0], y: -0.04}], borderColor: '#ff3030', borderWidth: 1.2,
         borderDash: [3, 2], pointRadius: 0}
      ]
    },
    options: {
      responsive: false, animation: false,
      layout: {padding: {top: 8, right: 3, left: 0, bottom: 0}},
      plugins: {
        legend: {display: false}, tooltip: {enabled: false},
        frame: {color: '#222', width: 1.2},
        rotY: {size: 16, offset: 17, digits: 1},
        marks: {items: [
          {x: 65, y: tagY, text: tag, size: 22, color: '#111', align: 'left'},
          {x: labelX, y: labelY, text: labelText, size: 13, color: '#ff2020', align: labelAlign}
        ]}
      },
      scales: {
        x: {type: 'linear', min: 63.8, max: 96.2,
            afterBuildTicks: s => { s.ticks = xTicksSide.map(v => ({value: v})); },
            afterFit: s => { s.height = 37; },
            ticks: {autoSkip: false, maxRotation: 0, padding: 2, color: '#000', font: {size: 17, family: FONT}},
            grid: {drawOnChartArea: false, tickLength: 7, tickColor: '#000'}, border: {display: false}},
        y: {type: 'linear', min: -0.04, max: 1.04,
            afterBuildTicks: s => { s.ticks = yTicksSide.map(v => ({value: v})); },
            afterFit: s => { s.width = 46; },
            ticks: {display: false},
            grid: {drawOnChartArea: false, tickLength: 7, tickColor: '#000'}, border: {display: false}}
      }
    },
    plugins: [framePlugin, marksPlugin, rotYPlugin]
  });
}
sidePanel('pB', agree90Black, agree90Purple, crossings[0], '(B)', 0.9, '69.92', 70.7, 0.17, 'center');
sidePanel('pC', agree95Black, agree95Purple, crossings[1], '(C)', 0.885, '83.10', 83.0, 0.17, 'center');
sidePanel('pD', agree97Black, agree97Purple, crossings[2], '(D)', 0.885, '87.22', 87.6, 0.02, 'left');
</script>
</body>
</html>
